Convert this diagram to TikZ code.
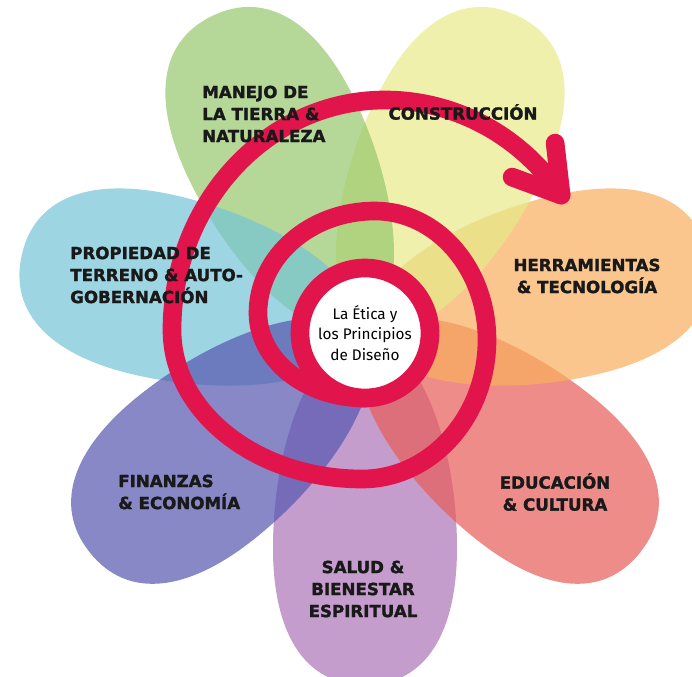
\documentclass[tikz,border=0pt]{standalone}
\usepackage{fontspec}
\setmainfont{DejaVu Sans}[BoldFeatures={FakeBold=1.6}]
\newfontfamily\handfont{Fira Sans}

% petal colours, laid on white at 70% opacity
\definecolor{petLilac}{RGB}{171,116,185}
\definecolor{petSalmon}{RGB}{231,92,88}
\definecolor{petOrange}{RGB}{249,175,94}
\definecolor{petYellow}{RGB}{231,234,136}
\definecolor{petGreen}{RGB}{151,199,109}
\definecolor{petSky}{RGB}{116,196,214}
\definecolor{petIndigo}{RGB}{86,86,176}
\definecolor{spiralRed}{RGB}{225,20,75}

\begin{document}
\begin{tikzpicture}[x=0.75pt, y=0.75pt,
petal/.style ={fill opacity=0.7},
spiral/.style ={draw=spiralRed, line width=14pt, line cap=round, line join=round},
petaltext/.style ={font=\bfseries\fontsize{12.5}{16.5}\selectfont, text=black!90, inner sep=0pt},
hub/.style ={circle, fill=white, draw=spiralRed, line width=14pt,
  minimum size=97.5pt, inner sep=0pt, align=center,
  font=\handfont\fontsize{11.5}{15.5}\selectfont}
]
\useasboundingbox (-365,-343) rectangle (327,333);
\clip (-365,-343) rectangle (327,333);
\fill[white] (-365,-343) rectangle (327,333);

% petals
\foreach \ang/\col in {-90/petLilac, -38.57/petSalmon, 12.86/petOrange,
  64.29/petYellow, 115.71/petGreen, 167.14/petSky, 218.57/petIndigo}
  \fill[petal, \col, rotate=\ang] (0,0) .. controls (10,55) and (112,92) .. (215,92)
    .. controls (298,92) and (352,62) .. (352,0)
    .. controls (352,-62) and (298,-92) .. (215,-92)
    .. controls (112,-92) and (10,-55) .. (0,0) -- cycle;

% spiral, quarter by quarter
\draw[spiral] (0,-65)
  arc[start angle=270, end angle=180, x radius=107, y radius=85]
  arc[start angle=180, end angle=90, x radius=117, y radius=102]
  arc[start angle=90, end angle=0, x radius=112, y radius=129]
  arc[start angle=0, end angle=-90, x radius=125, y radius=139]
  arc[start angle=270, end angle=180, x radius=190, y radius=149]
  arc[start angle=180, end angle=90, x radius=213, y radius=230]
  arc[start angle=90, end angle=35, x radius=215, y radius=223] coordinate (tip);
\draw[spiral] ([shift={(-6,52)}]tip) -- (tip) -- ([shift={(-49,18)}]tip);

\node[hub] (hub) at (0,0) {La Ética y\\los Principios\\de Diseño};

\node[petaltext, anchor=west, align=left] (manejo) at (-163,219) {MANEJO DE\\LA TIERRA \&\\NATURALEZA};
\node[petaltext] (constr) at (98,221) {CONSTRUCCIÓN};
\node[petaltext, anchor=west, align=left] (propiedad) at (-295,58) {PROPIEDAD DE\\TERRENO \& AUTO-\\GOBERNACIÓN};
\node[petaltext, align=center] (herram) at (222,57) {HERRAMIENTAS\\\& TECNOLOGÍA};
\node[petaltext, align=center] (educ) at (190,-159) {EDUCACIÓN\\\& CULTURA};
\node[petaltext, anchor=west, align=left] (finanzas) at (-247,-159) {FINANZAS\\\& ECONOMÍA};
\node[petaltext, align=center] (salud) at (-2,-256) {SALUD \&\\BIENESTAR\\ESPIRITUAL};
\end{tikzpicture}
\end{document}
